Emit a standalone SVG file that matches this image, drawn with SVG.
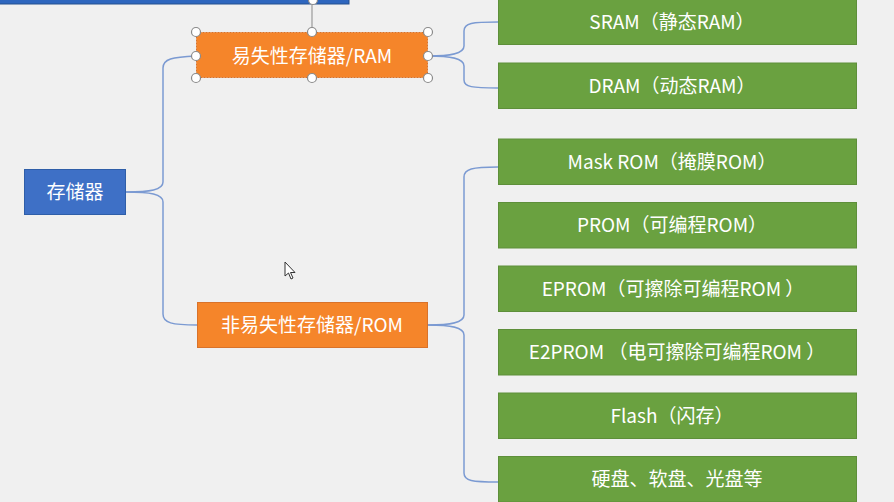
<svg xmlns="http://www.w3.org/2000/svg" width="894" height="502" viewBox="0 0 894 502">
<style>
.bg{fill:#f0f0f0}
.conn{fill:none;stroke:#7b9ad2;stroke-width:1.5}
.green{fill:#6aa140;stroke:#5e8f3a;stroke-width:1}
.orange{fill:#f5852a;stroke:#d9722a;stroke-width:1}
.blue{fill:#3e70c6;stroke:#2f5ea8;stroke-width:1}
.t{font-family:"Noto Sans CJK SC","Noto Sans",sans-serif;font-size:19px;fill:#ffffff;text-anchor:middle;dominant-baseline:central}
.h{fill:#ffffff;stroke:#8a8a8a;stroke-width:1.2}
</style>
<rect class="bg" x="0" y="0" width="894" height="502"/>
<g id="topbar">
<rect x="-2" y="-4" width="351" height="8" fill="#2e66be" stroke="#24518f" stroke-width="1"/>
</g>
<g id="connectors">
<path class="conn" d="M126,192 C150,192 163,190 163,182 L163,68 C163,59 172,57 196,56"/>
<path class="conn" d="M126,192 C150,192 163,194 163,202 L163,314 C163,323 172,325 197,325"/>
<path class="conn" d="M428,56 C450,56 464,54 464,46 L464,31 C464,23 472,22 498,22"/>
<path class="conn" d="M428,56 C450,56 464,58 464,66 L464,80 C464,87 472,88 498,88"/>
<path class="conn" d="M428,325 C450,325 464,323 464,315 L464,177 C464,169 472,167 498,167"/>
<path class="conn" d="M428,325 C450,325 464,327 464,335 L464,473 C464,481 472,482 498,482"/>
</g>
<g id="root">
<rect class="blue" x="24.5" y="169.5" width="101" height="45"/>
<text class="t" x="75" y="190.5">存储器</text>
</g>
<g id="ram">
<rect class="orange" x="196.5" y="32.5" width="231" height="45" stroke-dasharray="2 1"/>
<text class="t" x="312" y="54.5">易失性存储器/RAM</text>
</g>
<g id="rom">
<rect class="orange" x="197.5" y="302.5" width="230" height="45"/>
<text class="t" x="312" y="323.5">非易失性存储器/ROM</text>
</g>
<g id="sram">
<rect class="green" x="498.5" y="-1.5" width="358" height="46"/>
<text class="t" x="672" y="20.5">SRAM（静态RAM）</text>
</g>
<g id="dram">
<rect class="green" x="498.5" y="63" width="358" height="45.5"/>
<text class="t" x="672" y="84.5">DRAM（动态RAM）</text>
</g>
<g id="maskrom">
<rect class="green" x="498.5" y="139" width="358" height="45.5"/>
<text class="t" x="672" y="160.5">Mask ROM（掩膜ROM）</text>
</g>
<g id="prom">
<rect class="green" x="498.5" y="202.5" width="358" height="45.5"/>
<text class="t" x="672" y="223.5">PROM（可编程ROM）</text>
</g>
<g id="eprom">
<rect class="green" x="498.5" y="266" width="358" height="45.5"/>
<text class="t" x="673" y="287.5">EPROM（可擦除可编程ROM ）</text>
</g>
<g id="e2prom">
<rect class="green" x="498.5" y="329.5" width="358" height="45.5"/>
<text class="t" x="677" y="350.5">E2PROM （电可擦除可编程ROM ）</text>
</g>
<g id="flash">
<rect class="green" x="498.5" y="393" width="358" height="45.5"/>
<text class="t" x="672" y="414.5">Flash（闪存）</text>
</g>
<g id="disk">
<rect class="green" x="498.5" y="456.5" width="358" height="45.5"/>
<text class="t" x="677" y="477.5">硬盘、软盘、光盘等</text>
</g>
<g id="handles">
<line x1="312" y1="32" x2="312" y2="4" stroke="#9a9a9a" stroke-width="1.2"/>
<circle class="h" cx="313" cy="0" r="4.5"/>
<circle class="h" cx="196" cy="32" r="4.5"/>
<circle class="h" cx="312" cy="32" r="4.5"/>
<circle class="h" cx="428" cy="32" r="4.5"/>
<circle class="h" cx="196" cy="56" r="4.5"/>
<circle class="h" cx="428" cy="56" r="4.5"/>
<circle class="h" cx="196" cy="78" r="4.5"/>
<circle class="h" cx="312" cy="78" r="4.5"/>
<circle class="h" cx="428" cy="78" r="4.5"/>
</g>
<g id="cursor">
<path d="M285,262 L285,276 L288.5,273 L291,279 L293,278 L290.5,272.5 L295,272.5 Z" fill="#ffffff" stroke="#333333" stroke-width="1"/>
</g>
</svg>
